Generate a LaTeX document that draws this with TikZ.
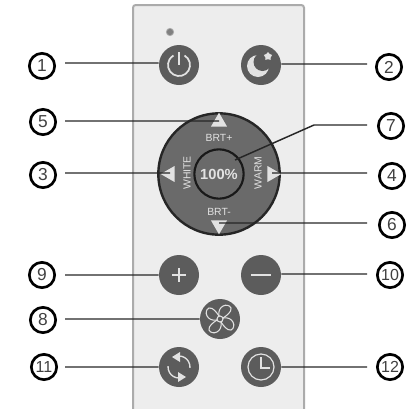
\documentclass[tikz,border=0pt]{standalone}
\usepackage{fontspec}
\setmainfont{Liberation Sans}
\usetikzlibrary{shapes.geometric}

\definecolor{panelgray}{HTML}{EDEDED}
\definecolor{edgegray}{HTML}{ABABAB}
\definecolor{btngray}{HTML}{5C5C5C}
\definecolor{dialgray}{HTML}{6A6A6A}
\definecolor{icongray}{HTML}{E2E2E2}

\tikzset{
    numlabel/.style={circle,draw=black,line width=2pt,minimum size=19pt,inner sep=0pt,font=\fontsize{13}{13}\selectfont,text=black!75},
    twodigit/.style={font=\fontsize{12}{12}\selectfont},
    btn/.style={circle,fill=btngray,minimum size=30pt,inner sep=0pt},
    tri/.style={isosceles triangle,isosceles triangle apex angle=60,fill=icongray,minimum size=10.5pt,inner sep=0pt},
    dialtext/.style={text=icongray,font=\fontsize{7.8}{8}\selectfont,inner sep=0pt},
    lead/.style={draw=black!85,line width=1.1pt},
    icon/.style={draw=icongray,line width=1.3pt}
}

\begin{document}
\begin{tikzpicture}[x=0.75pt,y=-0.75pt]
    \useasboundingbox (0,0) rectangle (410,408);

    % remote body
    \draw[edgegray,fill=panelgray,line width=1.5pt,rounded corners=2pt] (133,5) rectangle (304,430);
    \node[circle,fill=black!50,draw=edgegray,line width=0.6pt,minimum size=5.5pt,inner sep=0pt] (led) at (170,32) {};

    % dial
    \node[circle,fill=dialgray,draw=black!85,line width=1.8pt,minimum size=91pt,inner sep=0pt] (dial) at (219,174) {};
    \node[circle,draw=black!90,line width=1.6pt,minimum size=37pt,inner sep=0pt,text=icongray,font=\bfseries\fontsize{11}{11}\selectfont] (mid) at (219,174) {100\%};
    \node[tri,shape border rotate=90] (up) at (219,122) {};
    \node[tri,shape border rotate=-90] (down) at (219,225) {};
    \node[tri,shape border rotate=180] (left) at (170,174) {};
    \node[tri] (right) at (272,174) {};
    \node[dialtext] (brtp) at (219,138) {BRT+};
    \node[dialtext] (brtm) at (219,212) {BRT-};
    \node[dialtext,rotate=90] (white) at (187,173) {WHITE};
    \node[dialtext,rotate=90] (warm) at (258,173) {WARM};

    % buttons
    \node[btn] (power) at (179,65) {};
    \node[btn] (moon) at (261,65) {};
    \node[btn] (plus) at (179,275) {};
    \node[btn] (minus) at (261,275) {};
    \node[btn] (fan) at (220,319) {};
    \node[btn] (cycle) at (179,367) {};
    \node[btn] (clock) at (261,367) {};

    % icons
    \draw[icon,shift={(power)}] (5.5,-9.5) arc[start angle=-60,end angle=240,radius=11];
    \draw[icon,shift={(power)}] (0,-13) -- (0,0);
    \fill[icongray,shift={(moon)}] (-3,1) circle[radius=11];
    \fill[btngray,shift={(moon)}] (1.5,-3) circle[radius=9];
    \node[star,star points=5,fill=icongray,minimum size=6.5pt,inner sep=0pt] (moonstar) at ([shift={(5.25pt,6.5pt)}]moon.center) {};
    \draw[icon,line width=1.1pt,shift={(plus)}] (-7,0) -- (7,0) (0,-7) -- (0,7);
    \draw[icon,line width=2.2pt,shift={(minus)}] (-10,0) -- (10,0);
    \draw[icon,line width=0.8pt,shift={(fan)}] (0,0) circle[radius=3];
    \foreach \ang in {0,90,180,270}
        \draw[icon,line width=0.8pt,shift={(fan)},rotate=\ang] (-1,-3) .. controls (-3,-13) and (8,-17) .. (11,-11) .. controls (12,-7) and (6,-3) .. (3,-1);
    \draw[icon,line width=1pt,shift={(cycle)}] (0,-11) arc[start angle=-90,end angle=5,radius=11];
    \draw[icon,line width=1pt,shift={(cycle)}] (0,11) arc[start angle=90,end angle=185,radius=11];
    \fill[icongray,shift={(cycle)}] (-7,-10) -- (1,-15) -- (1,-5) -- cycle;
    \fill[icongray,shift={(cycle)}] (7,10) -- (-1,15) -- (-1,5) -- cycle;
    \draw[icon,line width=0.9pt,shift={(clock)}] (0,0) circle[radius=13];
    \draw[icon,line width=0.9pt,shift={(clock)}] (0,-10) -- (0,1) -- (9,1);

    % numbers
    \node[numlabel] (n1) at (42,66) {1};
    \node[numlabel] (n5) at (43,122) {5};
    \node[numlabel] (n3) at (43,175) {3};
    \node[numlabel] (n9) at (42,275) {9};
    \node[numlabel] (n8) at (43,320) {8};
    \node[numlabel,twodigit] (n11) at (44,367) {11};
    \node[numlabel] (n2) at (389,67) {2};
    \node[numlabel] (n7) at (391,126) {7};
    \node[numlabel] (n4) at (392,176) {4};
    \node[numlabel] (n6) at (392,225) {6};
    \node[numlabel,twodigit] (n10) at (390,275) {10};
    \node[numlabel,twodigit] (n12) at (390,367) {12};

    % free ends of the leaders
    \coordinate (a1) at (65,63);
    \coordinate (a5) at (65,121);
    \coordinate (a3) at (65,173);
    \coordinate (a9) at (65,275);
    \coordinate (a8) at (65,319);
    \coordinate (a11) at (65,367);
    \coordinate (a2) at (367,64);
    \coordinate (a7) at (367,125);
    \coordinate (a4) at (367,173);
    \coordinate (a6) at (367,223);
    \coordinate (a10) at (367,274);
    \coordinate (a12) at (367,367);
    \coordinate (knee) at (314,125);
    \coordinate (tip) at (235,160);

    \path[lead]
    (a1) -- (a1 -| power.west)
    (a5) -- (a5 -| up.center)
    (a3) -- (a3 -| left.center)
    (a9) -- (a9 -| plus.west)
    (a8) -- (a8 -| fan.west)
    (a11) -- (a11 -| cycle.west)
    (a2) -- (a2 -| moon.east)
    (a7) -- (knee) -- (tip)
    (a4) -- (a4 -| right.center)
    (a6) -- (a6 -| down.center)
    (a10) -- (a10 -| minus.east)
    (a12) -- (a12 -| clock.east);
\end{tikzpicture}
\end{document}
